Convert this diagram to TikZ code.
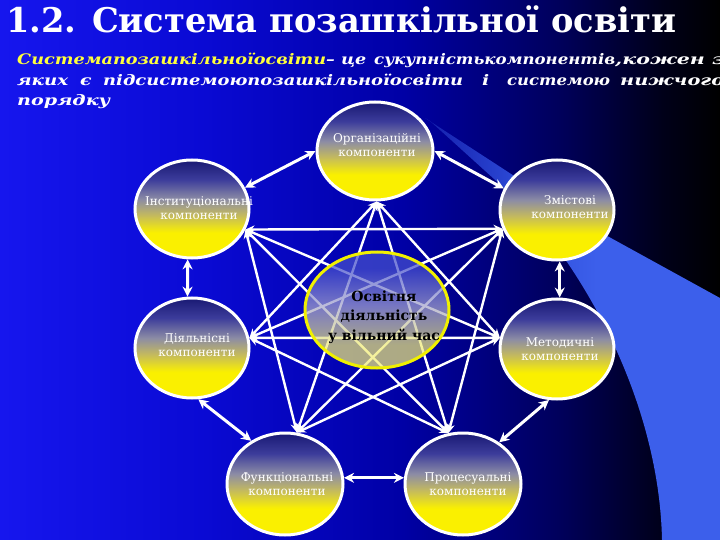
\documentclass[tikz,border=0pt]{standalone}
\usepackage{fontspec}
\setmainfont{DejaVu Serif}
\usepackage{graphicx}
\usetikzlibrary{shapes.geometric,arrows.meta}
\pgfdeclarelayer{bg}
\pgfdeclarelayer{edges}
\pgfsetlayers{bg,edges,main}

\definecolor{bgA}{RGB}{22,22,238}
\definecolor{bgB}{RGB}{10,10,212}
\definecolor{bgC}{RGB}{0,0,165}
\definecolor{bgD}{RGB}{0,0,90}
\definecolor{bgE}{RGB}{0,0,25}
\definecolor{cY}{RGB}{250,240,0}
\definecolor{cO}{RGB}{195,185,95}
\definecolor{cG}{RGB}{140,140,165}
\definecolor{cB}{RGB}{60,60,155}
\definecolor{cN}{RGB}{25,25,115}
\definecolor{zY}{RGB}{240,236,120}
\definecolor{zG}{RGB}{165,165,205}
\definecolor{zB}{RGB}{70,80,205}
\definecolor{ctrY}{RGB}{240,240,0}
\definecolor{subY}{RGB}{255,255,60}
\definecolor{beamA}{RGB}{20,30,172}
\definecolor{beamM}{RGB}{45,75,215}
\definecolor{beamB}{RGB}{60,95,235}

\pgfdeclarehorizontalshading{bgsh}{100bp}{color(0bp)=(bgA); color(25bp)=(bgA); color(39bp)=(bgB); color(53bp)=(bgC); color(64bp)=(bgD); color(71bp)=(bgE); color(75bp)=(black); color(100bp)=(black)}
\pgfdeclarehorizontalshading{beamsh}{100bp}{color(0bp)=(beamA); color(25bp)=(beamA); color(41bp)=(beamM); color(54bp)=(beamB); color(75bp)=(beamB); color(100bp)=(beamB)}
\pgfdeclareverticalshading{compsh}{100bp}{color(0bp)=(cY); color(25bp)=(cY); color(38bp)=(cY); color(47bp)=(cO); color(55bp)=(cG); color(65bp)=(cB); color(75bp)=(cN); color(100bp)=(cN)}
\pgfdeclareverticalshading{ctrsh}{100bp}{color(0bp)=(zY); color(25bp)=(zY); color(35bp)=(zY); color(52bp)=(zG); color(68bp)=(zB); color(75bp)=(zB); color(100bp)=(zB)}

\tikzset{
  comp/.style={ellipse, draw=white, line width=3pt, shade, shading=compsh,
    minimum width=114pt, minimum height=98pt, inner sep=0pt},
  ctr/.style={ellipse, draw=ctrY, line width=3pt, shade, shading=ctrsh, fill opacity=0.72,
    minimum width=144pt, minimum height=116pt, inner sep=0pt},
  lbl/.style={text=white, font=\fontsize{12}{14}\selectfont, align=center, inner sep=0pt},
  ctrlbl/.style={text=black, font=\bfseries\fontsize{14}{19.5}\selectfont, align=center, inner sep=0pt},
  sub/.style={anchor=base west, inner sep=0pt, text=white, font=\bfseries\itshape\fontsize{14.5}{18}\selectfont},
  ring/.style={draw=white, line width=3pt, {Stealth[length=10pt,width=10pt]}-{Stealth[length=10pt,width=10pt]}},
  star/.style={draw=white, line width=2.4pt, {Stealth[length=9pt,width=8pt]}-{Stealth[length=9pt,width=8pt]}},
}

\begin{document}
\begin{tikzpicture}[x=1pt,y=-1pt]
\useasboundingbox (0,0) rectangle (720,540);
\begin{pgfonlayer}{bg}
  \shade[shading=bgsh] (0,0) rectangle (720,540);
  \shade[shading=beamsh]
    (425,118) -- (505,170) -- (600,232) -- (720,298) -- (720,540) -- (662,540)
    .. controls (660,440) and (620,340) .. (567,262) -- (515,198) -- (430,121) -- cycle;
\end{pgfonlayer}

% title and definition
\node[anchor=base west, inner sep=0pt, text=white, font=\bfseries\fontsize{34}{40}\selectfont] (title) at (6,33)
  {\resizebox{670pt}{\height}{1.2. Система позашкільної освіти}};
\node[sub, text=subY] (s1a) at (17,65) {\resizebox{309pt}{\height}{Системапозашкільноїосвіти}};
\node[sub] (s1b) at (326,65) {\resizebox{40pt}{\height}{– це}};
\node[sub] (s1c) at (374,65) {\resizebox{241pt}{\height}{сукупністькомпонентів}};
\node[sub] (s1d) at (615,65) {\resizebox{110pt}{\height}{,кожен з}};
\node[sub] (s2a) at (17,86) {\resizebox{51pt}{\height}{яких}};
\node[sub] (s2b) at (80,86) {\scalebox{1.3}[1]{є}};
\node[sub] (s2c) at (103,86) {\resizebox{360pt}{\height}{підсистемоюпозашкільноїосвіти}};
\node[sub] (s2d) at (482,86) {\scalebox{1.3}[1]{і}};
\node[sub] (s2e) at (507,86) {\resizebox{103pt}{\height}{системою}};
\node[sub] (s2f) at (620,86) {\resizebox{104pt}{\height}{нижчого}};
\node[sub] (s3a) at (17,106) {\resizebox{93pt}{\height}{порядку}};

% component ellipses
\node[comp, minimum width=116pt] (O) at (375,151) {};
\node[comp] (I) at (192,209) {};
\node[comp, minimum height=100pt] (Z) at (557,210) {};
\node[comp, minimum height=100pt] (D) at (192,348) {};
\node[comp, minimum height=100pt] (M) at (557,349) {};
\node[comp, minimum width=116pt, minimum height=102pt] (F) at (285,484) {};
\node[comp, minimum width=116pt, minimum height=102pt] (P) at (463,484) {};
\node[ctr] (C) at (377,310) {};

% labels
\node[lbl] (tO) at (377,145) {Організаційні\\компоненти};
\node[lbl] (tI) at (199,208) {Інституціональні\\компоненти};
\node[lbl] (tZ) at (570,207) {Змістові\\компоненти};
\node[lbl] (tD) at (197,345) {Діяльнісні\\компоненти};
\node[lbl] (tM) at (560,349) {Методичні\\компоненти};
\node[lbl] (tF) at (287,484) {Функціональні\\компоненти};
\node[lbl] (tP) at (468,484) {Процесуальні\\компоненти};
\node[ctrlbl] (tC) at (384,317) {Освітня\\діяльність\\у вільний час};

\begin{pgfonlayer}{edges}
  % ring
  \draw[ring] (O.180) -- (I.22);
  \draw[ring] (O.0) -- (Z.158);
  \draw[ring] (I.-95) -- (D.95);
  \draw[ring] (Z.-87) -- (M.87);
  \draw[ring] (D.-83) -- (F.128);
  \draw[ring] (M.-99) -- (P.49);
  \draw[ring] (F.6) -- (P.174);
  % star
  \draw[star] (O.-88) -- (D.10);
  \draw[star] (O.-88) -- (M.169);
  \draw[star] (O.-88) -- (F.77);
  \draw[star] (O.-88) -- (P.106);
  \draw[star] (I.-21) -- (Z.199);
  \draw[star] (I.-21) -- (M.169);
  \draw[star] (I.-21) -- (F.77);
  \draw[star] (I.-21) -- (P.106);
  \draw[star] (Z.199) -- (D.10);
  \draw[star] (Z.199) -- (F.77);
  \draw[star] (Z.199) -- (P.106);
  \draw[star] (D.10) -- (M.169);
  \draw[star] (D.10) -- (P.106);
  \draw[star] (M.169) -- (F.77);
\end{pgfonlayer}
\end{tikzpicture}
\end{document}
